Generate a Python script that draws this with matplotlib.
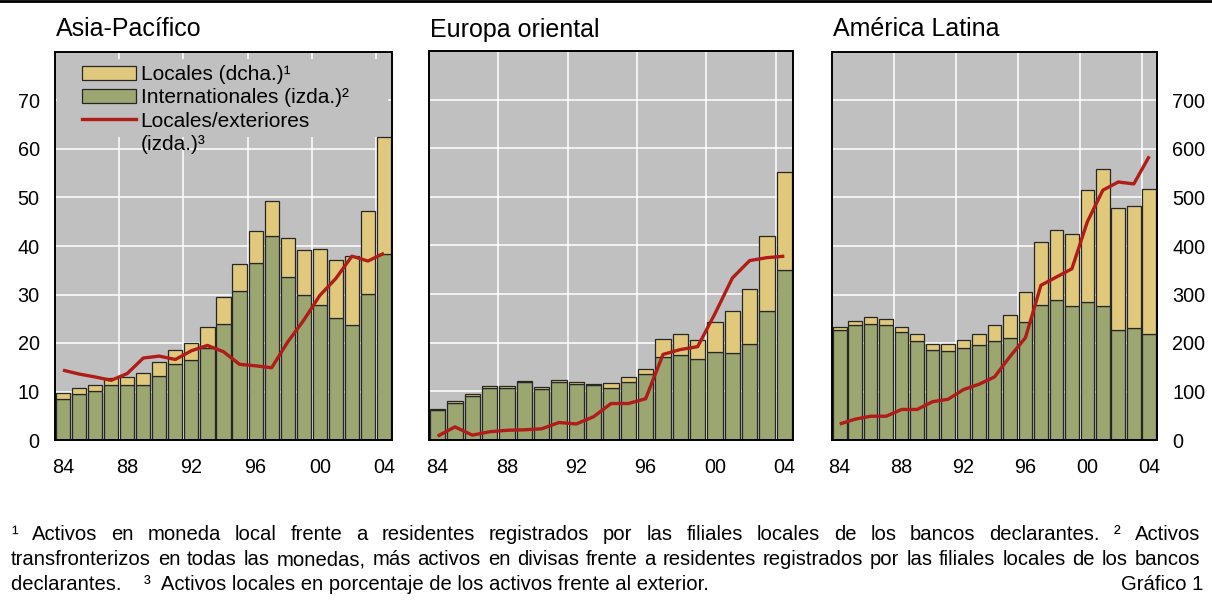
import matplotlib
matplotlib.use("Agg")
import numpy as np
from matplotlib import pyplot as plt
from matplotlib.patches import Patch, Rectangle
from matplotlib.lines import Line2D

plt.rcParams['font.family'] = ['Liberation Sans', 'DejaVu Sans']

# data: years 1984-2004; internationales in left units, locales in right units (dcha.)
years = list(range(1984, 2005))
xtick_years = [1984, 1988, 1992, 1996, 2000, 2004]
xtick_labels = ['84', '88', '92', '96', '00', '04']

asia_intl = [8.4, 9.4, 10.1, 11.3, 11.3, 11.3, 13.2, 15.6, 16.5, 18.9, 24.0,
             30.7, 36.5, 42.0, 33.7, 29.8, 27.9, 25.2, 23.7, 30.1, 38.4]
asia_local = [13, 14, 12, 15, 17, 26, 29, 29, 36, 44, 55,
              55, 66, 72, 80, 94, 115, 120, 142, 171, 240]
asia_ratio = [14.4, 13.6, 13.0, 12.3, 13.7, 16.9, 17.3, 16.6, 18.4, 19.5, 18.2,
              15.6, 15.3, 14.9, 20.2, 24.7, 29.8, 33.3, 37.9, 36.9, 38.5]

euro_intl = [6.2, 7.7, 9.0, 10.6, 10.6, 12.0, 10.5, 12.0, 11.6, 11.3, 10.7,
             12.0, 13.5, 17.1, 17.4, 16.6, 18.1, 17.8, 19.7, 26.5, 34.9]
euro_local = [1, 4, 4, 5, 5, 0.5, 3, 4, 4, 3, 10,
              10, 11, 36, 43, 39, 62, 87, 114, 155, 203]
euro_ratio = [0.8, 2.7, 1.0, 1.7, 2.0, 2.1, 2.3, 3.6, 3.3, 4.8, 7.5,
              7.5, 8.5, 17.6, 18.6, 19.2, 26.0, 33.3, 36.9, 37.5, 37.8]

latam_intl = [22.6, 23.7, 24.0, 23.7, 22.2, 20.5, 18.5, 18.3, 18.9, 19.5, 20.5,
              21.1, 24.3, 27.9, 28.8, 27.6, 28.5, 27.6, 22.6, 23.0, 21.8]
latam_local = [7, 9, 13, 13, 11, 13, 13, 15, 18, 23, 32,
               46, 62, 129, 146, 148, 230, 283, 253, 253, 300]
latam_ratio = [3.3, 4.3, 4.9, 4.9, 6.3, 6.3, 7.9, 8.4, 10.4, 11.5, 13.0,
               17.2, 21.1, 31.9, 33.6, 35.3, 45.0, 51.5, 53.2, 52.8, 58.5]

titles = ['Asia-Pacífico', 'Europa oriental', 'América Latina']
legend_labels = ['Locales (dcha.)¹', 'Internationales (izda.)²', 'Locales/exteriores', '(izda.)³']

footnote_lines = [
    "¹ Activos en moneda local frente a residentes registrados por las filiales locales de los bancos declarantes. ² Activos",
    "transfronterizos en todas las monedas, más activos en divisas frente a residentes registrados por las filiales locales de los bancos",
]
footnote_last = "declarantes.    ³  Activos locales en porcentaje de los activos frente al exterior."
chart_label = "Gráfico 1"

BG = '#c0c0c0'
GREEN = '#9ba670'
YELLOW = '#e0c97d'
EDGE = '#262626'
RED = '#b01c18'

W, H = 1212, 601
fig = plt.figure(figsize=(W / 100, H / 100), dpi=100)

# axes boxes in pixels: left, right, top, bottom
boxes = [(55, 392, 52, 440), (429, 793, 51, 440), (832, 1157, 52, 440)]
series = [(asia_intl, asia_local, asia_ratio),
          (euro_intl, euro_local, euro_ratio),
          (latam_intl, latam_local, latam_ratio)]

axes = []
for i, ((l, r, t, b), (intl, local, ratio)) in enumerate(zip(boxes, series)):
    ax = fig.add_axes([l / W, 1 - b / H, (r - l) / W, (b - t) / H])
    axes.append(ax)
    ax.set_facecolor(BG)
    ax.set_axisbelow(True)
    intl = np.array(intl)
    local_left = np.array(local) / 10.0
    ax.bar(years, intl, width=0.88, color=GREEN, edgecolor=EDGE, linewidth=0.9, zorder=2)
    ax.bar(years, local_left, bottom=intl, width=0.88, color=YELLOW, edgecolor=EDGE,
           linewidth=0.9, zorder=2)
    ax.plot(years, ratio, color=RED, linewidth=2.4, zorder=3, solid_capstyle='butt')

    ax.set_xlim(1983.5, 2004.5)
    ax.set_ylim(0, 80)
    ax.set_yticks(range(0, 80, 10))
    ax.yaxis.grid(True, color='white', linewidth=1.1)
    for xg in [1987.5, 1991.5, 1995.5, 1999.5, 2003.5]:
        ax.axvline(xg, color='white', linewidth=1.1, zorder=0.5)
    ax.set_xticks(xtick_years)
    ax.set_xticklabels(xtick_labels)
    ax.tick_params(axis='x', length=0, labelsize=14.3, pad=13)
    ax.tick_params(axis='y', length=0, labelsize=14.3, pad=11)
    for s in ax.spines.values():
        s.set_linewidth(1.4)
        s.set_color('black')
        s.set_zorder(4)

    if i == 0:
        ax.set_yticklabels([str(v) for v in range(0, 80, 10)])
    elif i == 1:
        ax.tick_params(axis='y', labelleft=False)
    else:
        ax.tick_params(axis='y', labelleft=False, labelright=True)
        ax.set_yticklabels([str(v * 10) for v in range(0, 80, 10)])

    fig.text((l + 1) / W, 1 - 36.5 / H, titles[i], fontsize=18, va='baseline', ha='left')

# legend in first panel, on a grey box hiding the grid
ax0 = axes[0]
ax0.add_patch(Rectangle((0.006, 0.782), 0.982, 0.2, transform=ax0.transAxes,
                        facecolor=BG, edgecolor='none', zorder=1))
handles = [Patch(facecolor=YELLOW, edgecolor=EDGE, linewidth=0.9),
           Patch(facecolor=GREEN, edgecolor=EDGE, linewidth=0.9),
           Line2D([], [], color=RED, linewidth=2.4),
           Line2D([], [], color='none')]
ax0.legend(handles, legend_labels, loc='upper left', bbox_to_anchor=(27 / 337, 0.966),
           frameon=False, fontsize=15, borderpad=0, borderaxespad=0,
           handlelength=2.57, handleheight=0.63, handletextpad=0.24, labelspacing=0.2)

# top rule
fig.add_artist(Line2D([0, 1], [1 - 1.3 / H, 1 - 1.3 / H], transform=fig.transFigure,
                      color='black', linewidth=2.0))

# footnotes, justified
renderer = fig.canvas.get_renderer()
FS = 14.6
x_left, x_right = 11 / W, 1200 / W
baselines = [540, 565, 590]


def draw_justified(line, y):
    words = line.split(' ')
    texts = [fig.text(0, y, w, fontsize=FS, va='baseline', ha='left') for w in words]
    widths = [t.get_window_extent(renderer).width / W for t in texts]
    gap = (x_right - x_left - sum(widths)) / (len(words) - 1)
    x = x_left
    for t, w in zip(texts, widths):
        t.set_x(x)
        x += w + gap


for line, yb in zip(footnote_lines, baselines[:2]):
    draw_justified(line, 1 - yb / H)

fig.text(x_left, 1 - baselines[2] / H, footnote_last, fontsize=FS, va='baseline', ha='left')
fig.text(1203 / W, 1 - baselines[2] / H, chart_label, fontsize=FS, va='baseline', ha='right')

fig.savefig('out.png', dpi=100)
